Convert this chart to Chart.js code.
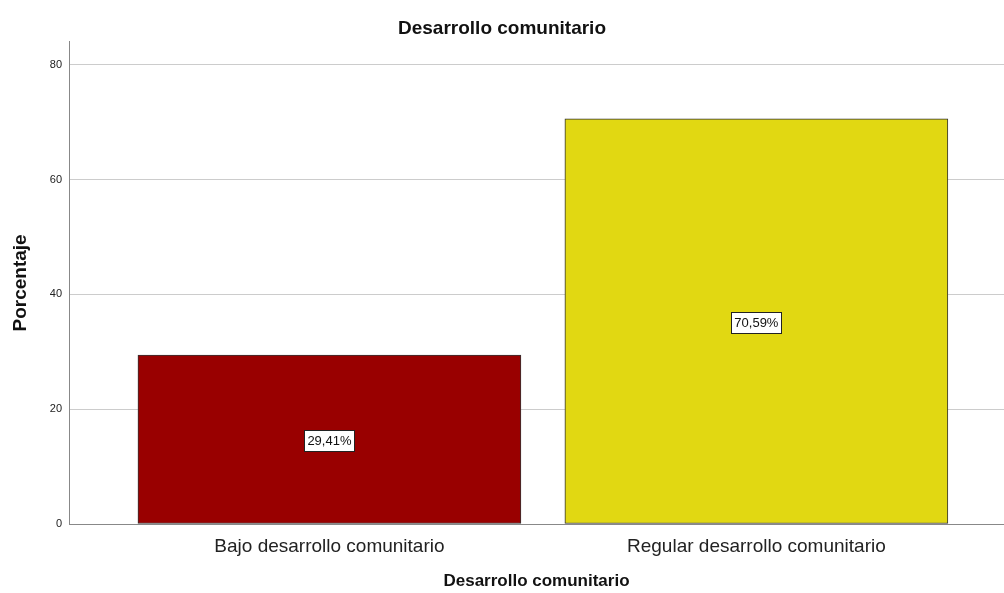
<!DOCTYPE html>
<html>
<head>
<meta charset="utf-8">
<script src="https://cdn.jsdelivr.net/npm/chart.js@4/dist/chart.umd.min.js"></script>
<style>
  html, body { margin: 0; padding: 0; background: #fff; }
  #wrap { width: 1004px; height: 593px; }
</style>
</head>
<body>
<div id="wrap"><canvas id="chart"></canvas></div>
<script>
// data
const categories = ["Bajo desarrollo comunitario", "Regular desarrollo comunitario"];
const percentages = [29.41, 70.59];
const pctLabels = ["29,41%", "70,59%"];
const barColors = ["#990000", "#e1d812"];
const yTicks = [0, 20, 40, 60, 80];

const FONT = "'Liberation Sans', Arial, sans-serif";

// value boxes in the middle of each bar
const boxLabels = {
    id: "boxLabels",
    afterDatasetsDraw(chart) {
        const ctx = chart.ctx;
        const meta = chart.getDatasetMeta(0);
        ctx.save();
        ctx.font = "13px " + FONT;
        ctx.textAlign = "center";
        ctx.textBaseline = "middle";
        meta.data.forEach((bar, i) => {
            const cx = bar.x;
            const cy = (bar.y + bar.base) / 2;
            const txt = pctLabels[i];
            const w = Math.round(ctx.measureText(txt).width + 6);
            const h = 21;
            const bx = Math.round(cx - w / 2) + 0.5;
            const by = Math.round(cy - h / 2) + 1.5;
            ctx.fillStyle = "#fff";
            ctx.fillRect(bx, by, w, h);
            ctx.strokeStyle = "#222";
            ctx.lineWidth = 1;
            ctx.strokeRect(bx, by, w, h);
            ctx.fillStyle = "#111";
            ctx.fillText(txt, cx, by + h / 2 + 0.5);
        });
        ctx.restore();
    }
};

new Chart(document.getElementById("chart"), {
    type: "bar",
    data: {
        datasets: [{
            data: percentages.map((v, i) => ({ x: i + 1, y: v })),
            backgroundColor: barColors,
            borderColor: "#333",
            borderWidth: 1,
            borderSkipped: false,
            barThickness: 383
        }]
    },
    options: {
        responsive: true,
        maintainAspectRatio: false,
        animation: false,
        layout: { padding: 0 },
        plugins: {
            legend: { display: false },
            tooltip: { enabled: false },
            title: {
                display: true,
                text: "Desarrollo comunitario",
                color: "#111",
                font: { family: FONT, size: 19, weight: "bold", lineHeight: 1.2 },
                padding: { top: 17, bottom: 2 }
            }
        },
        scales: {
            x: {
                type: "linear",
                offset: false,
                min: 0.39,
                max: 2.58,
                afterBuildTicks: s => { s.ticks = [{ value: 1 }, { value: 2 }]; },
                afterFit: s => { s.height = 69; },
                grid: { display: false, drawTicks: false },
                border: { display: true, color: "#888", width: 1 },
                ticks: {
                    color: "#222",
                    padding: 11,
                    maxRotation: 0,
                    font: { family: FONT, size: 19 },
                    callback: v => categories[v - 1]
                },
                title: {
                    display: true,
                    text: "Desarrollo comunitario",
                    color: "#111",
                    font: { family: FONT, size: 17, weight: "bold" },
                    padding: { top: 0, bottom: 1 }
                }
            },
            y: {
                min: 0,
                max: 84,
                afterBuildTicks: s => { s.ticks = yTicks.map(v => ({ value: v })); },
                afterFit: s => { s.width = 69; },
                grid: {
                    drawTicks: false,
                    color: ctx => ctx.tick && ctx.tick.value === 0 ? "rgba(0,0,0,0)" : "#cccccc"
                },
                border: { display: true, color: "#888", width: 1 },
                ticks: {
                    color: "#222",
                    padding: 7,
                    font: { family: FONT, size: 11 }
                },
                title: {
                    display: true,
                    text: "Porcentaje",
                    color: "#111",
                    font: { family: FONT, size: 19, weight: "bold" },
                    padding: { top: 9, bottom: 0 }
                }
            }
        }
    },
    plugins: [boxLabels]
});
</script>
</body>
</html>
